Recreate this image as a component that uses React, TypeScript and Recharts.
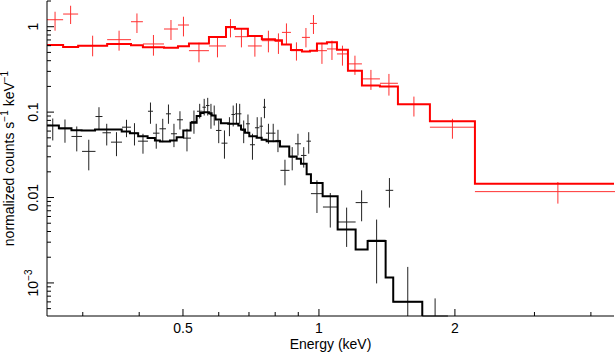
import React from "react";
import { ComposedChart, Line, Scatter, ErrorBar, XAxis, YAxis, Label } from "recharts";

// red spectrum: bin edges (keV), folded model, data and 1-sigma bounds
const RED_EDGES = [
  0.25, 0.2714, 0.293, 0.3397, 0.3836, 0.4076, 0.4539, 0.4874, 0.5155, 0.5708, 0.6226, 0.6517,
  0.6962, 0.7475, 0.799, 0.8281, 0.867, 0.917, 0.9552, 0.9899, 1.0416, 1.0962, 1.1593, 1.245,
  1.3646, 1.4957, 1.7606, 2.2148, 5.16,
];
const RED_MODEL = [
  0.611, 0.579, 0.6, 0.628, 0.605, 0.573, 0.568, 0.589, 0.638, 0.758, 0.992, 0.948, 0.779, 0.711,
  0.692, 0.621, 0.534, 0.511, 0.524, 0.638, 0.659, 0.539, 0.306, 0.2046, 0.199, 0.1237, 0.0783,
  0.01454,
];
const RED_DATA = [
  1.207, 1.407, 0.6, 0.705, 1.144, 0.628, 0.94, 1.047, 0.524, 0.595, 0.973, 0.764, 0.595, 0.686,
  0.674, 0.858, 0.524, 0.75, 1.093, 0.524, 0.549, 0.48, 0.367, 0.245, 0.2176, 0.1227, 0.0666,
  0.01172,
];
const RED_UP = [
  1.497, 1.76, 0.785, 0.898, 1.43, 0.8, 1.198, 1.309, 0.65, 0.75, 1.23, 0.94, 0.785, 0.898, 0.835,
  1.093, 0.656, 0.966, 1.37, 0.65, 0.686, 0.6, 0.458, 0.312, 0.28, 0.152, 0.0835, 0.01518,
];
const RED_DOWN = [
  0.898, 1.075, 0.45, 0.524, 0.844, 0.458, 0.699, 0.77, 0.383, 0.438, 0.75, 0.573, 0.446, 0.501,
  0.48, 0.628, 0.401, 0.573, 0.822, 0.367, 0.408, 0.35, 0.273, 0.182, 0.156, 0.0888, 0.0488,
  0.00849,
];

// black spectrum: model has its own (finer) binning
const BLACK_MODEL_EDGES = [
  0.25, 0.2656, 0.2832, 0.2982, 0.3194, 0.3659, 0.3815, 0.3979, 0.4175, 0.4334, 0.4446, 0.4679,
  0.4842, 0.5008, 0.5199, 0.5361, 0.5466, 0.5545, 0.5707, 0.5786, 0.5905, 0.6067, 0.6297, 0.663,
  0.6722, 0.686, 0.7011, 0.7278, 0.7467, 0.7659, 0.8198, 0.8595, 0.8925, 0.9124, 0.9392, 0.96,
  1.019, 1.1, 1.2056, 1.2816, 1.4048, 1.4603, 1.6934,
];
const BLACK_MODEL = [
  0.0697, 0.0648, 0.0614, 0.061, 0.0626, 0.0593, 0.0567, 0.0523, 0.0496, 0.0466, 0.0453, 0.0466,
  0.0509, 0.061, 0.075, 0.09, 0.0976, 0.0997, 0.0971, 0.0913, 0.082, 0.0742, 0.073, 0.0697, 0.0626,
  0.0573, 0.0523, 0.0501, 0.0475, 0.0457, 0.0396, 0.0303, 0.0285, 0.0249, 0.0187, 0.0148, 0.01033,
  0.00422, 0.00246, 0.0031, 0.00116, 0.000601,
];
const BLACK_MODEL_TAIL = 1e-5;

const BLACK_EDGES = [
  0.25, 0.2651, 0.2832, 0.2989, 0.3201, 0.3317, 0.3464, 0.3664, 0.3836, 0.3975, 0.4183, 0.4291,
  0.4436, 0.4585, 0.4703, 0.4849, 0.5, 0.5208, 0.5369, 0.5522, 0.5621, 0.5723, 0.5811, 0.5916,
  0.6084, 0.6273, 0.6401, 0.6517, 0.6617, 0.6736, 0.6893, 0.7035, 0.7217, 0.7384, 0.7517, 0.7633,
  0.783, 0.8012, 0.8218, 0.8605, 0.8849, 0.9124, 0.9384, 0.96, 1.0206, 1.1, 1.2056, 1.2816, 1.4048,
  1.4603, 1.6934, 1.9299,
];
// last two bins sit on / below the lower edge of the plot
const BLACK_DATA = [
  0.0697, 0.0638, 0.0519, 0.0347, 0.0888, 0.0573, 0.0445, 0.0666, 0.0567, 0.0457, 0.1024, 0.0567,
  0.0638, 0.0955, 0.0558, 0.0813, 0.0496, 0.0777, 0.1024, 0.1141, 0.1194, 0.0938, 0.0913, 0.061,
  0.0433, 0.073, 0.0938, 0.0955, 0.0955, 0.061, 0.073, 0.0415, 0.0656, 0.0684, 0.1141, 0.0567,
  0.0567, 0.0466, 0.0208, 0.0297, 0.0426, 0.0311, 0.0457, 0.0111, 0.00774, 0.00517, 0.00872,
  0.00316, 0.01214, 0.000601, 0.00041,
];
const BLACK_UP = [
  0.0842, 0.082, 0.0679, 0.0475, 0.1141, 0.073, 0.0582, 0.0813, 0.0742, 0.0558, 0.1295, 0.073,
  0.0835, 0.1227, 0.073, 0.1024, 0.0638, 0.1044, 0.125, 0.143, 0.1469, 0.125, 0.1194, 0.0798,
  0.061, 0.0872, 0.1194, 0.127, 0.125, 0.0798, 0.0938, 0.0558, 0.0872, 0.0872, 0.143, 0.073, 0.073,
  0.0621, 0.0277, 0.0389, 0.0558, 0.0389, 0.0582, 0.0159, 0.01129, 0.00762, 0.01214, 0.00552,
  0.0169, 0.00154, 0.000659,
];
const BLACK_DOWN = [
  0.0466, 0.0438, 0.0347, 0.0208, 0.0621, 0.0407, 0.0305, 0.0509, 0.0407, 0.0326, 0.073, 0.0373,
  0.0445, 0.073, 0.0389, 0.0626, 0.0347, 0.0558, 0.0842, 0.0913, 0.0913, 0.0638, 0.0697, 0.0433,
  0.0285, 0.0523, 0.0679, 0.073, 0.073, 0.0433, 0.0558, 0.0277, 0.0509, 0.0488, 0.0849, 0.0426,
  0.0445, 0.034, 0.0139, 0.0208, 0.0311, 0.0224, 0.0326, 0.00659, 0.00445, 0.00264, 0.00527,
  0.000987, 0.00762, 0.00041, 0.00041,
];

const X_MAJOR = [0.5, 1, 2];
const X_TICKS = [0.3, 0.4, 0.5, 0.6, 0.7, 0.8, 0.9, 1, 2, 3, 4];
const Y_MAJOR = [1, 0.1, 0.01, 0.001];
const Y_LABELS = ["1", "0.1", "0.01", "10^-3"];
const Y_TICKS = [
  0.0005, 0.0006, 0.0007, 0.0008, 0.0009, 0.001, 0.002, 0.003, 0.004, 0.005, 0.006, 0.007, 0.008,
  0.009, 0.01, 0.02, 0.03, 0.04, 0.05, 0.06, 0.07, 0.08, 0.09, 0.1, 0.2, 0.3, 0.4, 0.5, 0.6, 0.7,
  0.8, 0.9, 1, 2,
];

const FONT = "'Liberation Sans', Arial, Helvetica, sans-serif";
const RED = "#ff0000";
const RED_ERR = "#ff3030";
const BLACK_ERR = "#222";

function binPoints(edges: number[], vals: number[], up: number[], down: number[]) {
  return vals.map((v, i) => {
    const lo = edges[i];
    const hi = edges[i + 1];
    const x = Math.sqrt(lo * hi);
    return { x, y: v, ex: [x - lo, hi - x], ey: [v - down[i], up[i] - v] };
  });
}

function steps(edges: number[], vals: number[], tail: number) {
  return edges.map((e, i) => ({ x: e, y: i < vals.length ? vals[i] : tail }));
}

const redPts = binPoints(RED_EDGES, RED_DATA, RED_UP, RED_DOWN);
const blackPts = binPoints(BLACK_EDGES, BLACK_DATA, BLACK_UP, BLACK_DOWN);
const redModel = steps(RED_EDGES, RED_MODEL, RED_MODEL[RED_MODEL.length - 1]);
const blackModel = steps(BLACK_MODEL_EDGES, BLACK_MODEL, BLACK_MODEL_TAIL);

const noDot = () => <g />;

const BottomTick = ({ x, y, payload }: any) => {
  const major = X_MAJOR.includes(payload.value);
  return (
    <g>
      <line x1={x} x2={x} y1={y} y2={y - (major ? 7 : 4)} stroke="#000" strokeWidth={1} />
      {major && (
        <text x={x} y={y + 17} textAnchor="middle" fontSize={14} fontFamily={FONT} fill="#000">
          {payload.value}
        </text>
      )}
    </g>
  );
};

const TopTick = ({ x, y, payload }: any) => {
  const major = X_MAJOR.includes(payload.value);
  return <line x1={x} x2={x} y1={y} y2={y + (major ? 7 : 4)} stroke="#000" strokeWidth={1} />;
};

const LeftTick = ({ x, y, payload }: any) => {
  const idx = Y_MAJOR.indexOf(payload.value);
  const major = idx >= 0;
  let label: React.ReactNode = null;
  if (major) {
    const [base, exp] = Y_LABELS[idx].split("^");
    label = (
      <text
        x={x - 8.5}
        y={y}
        transform={`rotate(-90, ${x - 8.5}, ${y})`}
        textAnchor="middle"
        fontSize={14}
        fontFamily={FONT}
        fill="#000"
      >
        {base}
        {exp && (
          <tspan dy={-6} fontSize={10}>
            {exp.replace("-", "\u2212")}
          </tspan>
        )}
      </text>
    );
  }
  return (
    <g>
      <line x1={x} x2={x + (major ? 7 : 4)} y1={y} y2={y} stroke="#000" strokeWidth={1} />
      {label}
    </g>
  );
};

const RightTick = ({ x, y, payload }: any) => {
  const major = Y_MAJOR.includes(payload.value);
  return <line x1={x} x2={x - (major ? 7 : 4)} y1={y} y2={y} stroke="#000" strokeWidth={1} />;
};

export default function App() {
  return (
    <div style={{ position: "absolute", left: 0, top: 0, background: "#fff" }}>
      <ComposedChart width={615} height={353} margin={{ top: 1, right: 1, bottom: 0, left: 0 }}>
        <XAxis
          xAxisId="b"
          type="number"
          dataKey="x"
          scale="log"
          domain={[0.25, 4.5]}
          allowDataOverflow
          ticks={X_TICKS}
          interval={0}
          tickSize={0}
          tickMargin={0}
          tickLine={false}
          tick={BottomTick}
          axisLine={{ stroke: "#000" }}
          height={37}
        >
          <Label
            content={() => (
              <text x={330.5} y={348.5} textAnchor="middle" fontSize={14} fontFamily={FONT} fill="#000">
                Energy (keV)
              </text>
            )}
          />
        </XAxis>
        <XAxis
          xAxisId="t"
          orientation="top"
          type="number"
          dataKey="x"
          scale="log"
          domain={[0.25, 4.5]}
          allowDataOverflow
          ticks={X_TICKS}
          interval={0}
          tickSize={0}
          tickMargin={0}
          tickLine={false}
          tick={TopTick}
          axisLine={{ stroke: "#000" }}
          height={0}
        />
        <YAxis
          yAxisId="l"
          type="number"
          scale="log"
          domain={[4.1e-4, 2]}
          allowDataOverflow
          ticks={Y_TICKS}
          interval={0}
          tickSize={0}
          tickMargin={0}
          tickLine={false}
          tick={LeftTick}
          axisLine={{ stroke: "#000" }}
          width={47}
        >
          <Label
            content={() => (
              <text
                x={14}
                y={158.5}
                transform="rotate(-90, 14, 158.5)"
                textAnchor="middle"
                fontSize={14}
                fontFamily={FONT}
                fill="#000"
              >
                normalized counts s
                <tspan dy={-6} fontSize={10}>{"\u22121"}</tspan>
                <tspan dy={6}> keV</tspan>
                <tspan dy={-6} fontSize={10}>{"\u22121"}</tspan>
              </text>
            )}
          />
        </YAxis>
        <YAxis
          yAxisId="r"
          orientation="right"
          type="number"
          scale="log"
          domain={[4.1e-4, 2]}
          allowDataOverflow
          ticks={Y_TICKS}
          interval={0}
          tickSize={0}
          tickMargin={0}
          tickLine={false}
          tick={RightTick}
          axisLine={{ stroke: "#000" }}
          width={0}
        />

        <Scatter xAxisId="b" yAxisId="l" data={blackPts} dataKey="y" shape={noDot} isAnimationActive={false}>
          <ErrorBar dataKey="ex" direction="x" width={0} stroke={BLACK_ERR} strokeWidth={1} isAnimationActive={false} />
          <ErrorBar dataKey="ey" direction="y" width={0} stroke={BLACK_ERR} strokeWidth={1} isAnimationActive={false} />
        </Scatter>
        <Scatter xAxisId="b" yAxisId="l" data={redPts} dataKey="y" shape={noDot} isAnimationActive={false}>
          <ErrorBar dataKey="ex" direction="x" width={0} stroke={RED_ERR} strokeWidth={1} isAnimationActive={false} />
          <ErrorBar dataKey="ey" direction="y" width={0} stroke={RED_ERR} strokeWidth={1} isAnimationActive={false} />
        </Scatter>
        <Line
          xAxisId="b"
          yAxisId="l"
          data={blackModel}
          dataKey="y"
          type="stepAfter"
          stroke="#000"
          strokeWidth={2}
          dot={false}
          activeDot={false}
          isAnimationActive={false}
        />
        <Line
          xAxisId="b"
          yAxisId="l"
          data={redModel}
          dataKey="y"
          type="stepAfter"
          stroke={RED}
          strokeWidth={2}
          dot={false}
          activeDot={false}
          isAnimationActive={false}
        />
      </ComposedChart>
    </div>
  );
}
